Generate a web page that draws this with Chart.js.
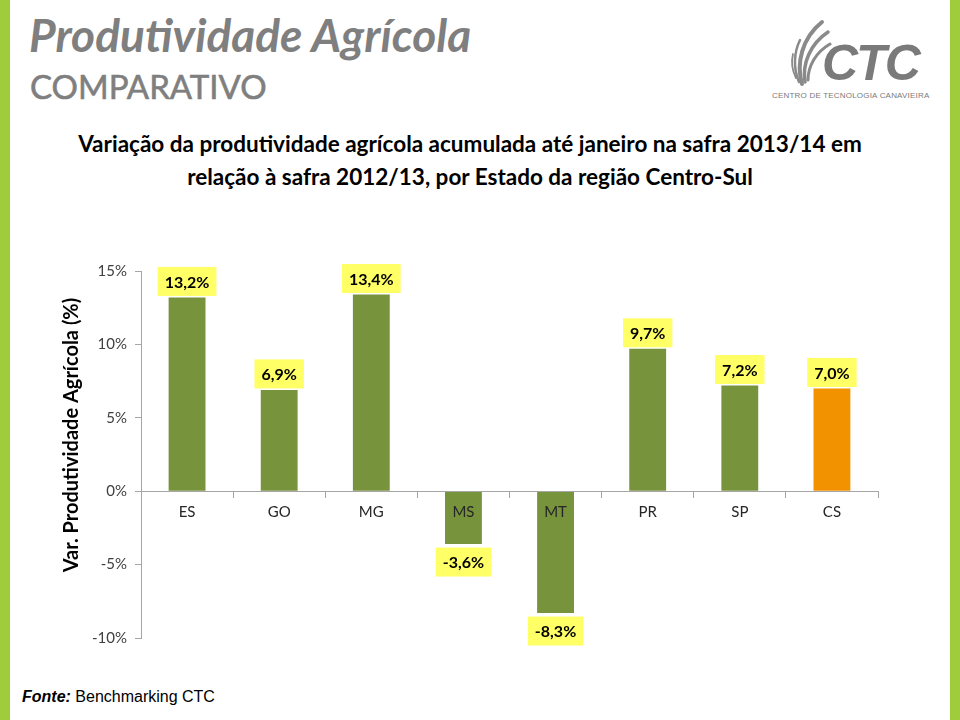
<!DOCTYPE html>
<html lang="pt">
<head>
<meta charset="utf-8">
<title>Produtividade Agrícola - Comparativo</title>
<script src="https://cdn.jsdelivr.net/npm/chart.js@4.4.1/dist/chart.umd.min.js"></script>
<style>
    html, body { margin: 0; padding: 0; background: #fff; }
    body { width: 960px; height: 720px; position: relative; overflow: hidden; font-family: Lato, "Open Sans", sans-serif; }
    .stripe { position: absolute; top: 0; bottom: 0; width: 10px; background: #9fcc3b; }
    .stripe.left { left: 0; }
    .stripe.right { left: 950px; }
    .title { position: absolute; left: 29px; top: 12px; font-size: 46px; font-weight: bold; font-style: italic; color: #7f7f7f; line-height: 1; }
    .subtitle { position: absolute; left: 30px; top: 70px; font-size: 33px; color: #7f7f7f; line-height: 1; -webkit-text-stroke: 0.6px #7f7f7f; }
    .heading { position: absolute; left: 20px; width: 900px; top: 127px; text-align: center; font-size: 22.5px; font-weight: bold; color: #000; line-height: 33px; }
    .logo-ctc { position: absolute; left: 822px; top: 34px; font-family: "Liberation Sans", Arial, sans-serif; font-size: 50px; font-weight: bold; font-style: italic; color: #7a7a7a; letter-spacing: -2px; }
    .logo-sub { position: absolute; left: 772px; top: 91px; width: 160px; font-family: "Liberation Sans", Arial, sans-serif; font-size: 8px; color: #7a7a7a; letter-spacing: 0.2px; white-space: nowrap; }
    .logo-mark { position: absolute; left: 788px; top: 18px; }
    .fonte { position: absolute; left: 22px; top: 688px; font-family: "Liberation Sans", Arial, sans-serif; font-size: 16px; color: #000; }
    .fonte b { font-style: italic; }
    #chartBox { position: absolute; left: 55px; top: 252px; width: 840px; height: 410px; }
</style>
</head>
<body>
<div class="stripe left"></div>
<div class="stripe right"></div>

<div class="title">Produtividade Agrícola</div>
<div class="subtitle">COMPARATIVO</div>

<svg class="logo-mark" width="44" height="70" viewBox="0 0 44 70">
    <g fill="none" stroke="#8a8a8a" stroke-linecap="round">
        <path d="M14 66 C 8 45, 14 20, 34 4" stroke-width="4"/>
        <path d="M17 64 C 14 46, 22 26, 40 14" stroke-width="3.5"/>
        <path d="M20 62 C 20 48, 28 34, 42 26" stroke-width="3"/>
        <path d="M11 64 C 5 50, 6 34, 12 22" stroke-width="2.5"/>
        <path d="M8 60 C 4 52, 3 44, 5 36" stroke-width="1.8"/>
    </g>
</svg>
<div class="logo-ctc">CTC</div>
<div class="logo-sub">CENTRO DE TECNOLOGIA CANAVIEIRA</div>

<div class="heading">Variação da produtividade agrícola acumulada até janeiro na safra 2013/14 em<br>relação à safra 2012/13, por Estado da região Centro-Sul</div>

<div id="chartBox"><canvas id="prodChart"></canvas></div>

<div class="fonte"><b>Fonte:</b> Benchmarking CTC</div>

<script>
/* ---------- Data ---------- */
const states = ["ES", "GO", "MG", "MS", "MT", "PR", "SP", "CS"];
const variation = [13.2, 6.9, 13.4, -3.6, -8.3, 9.7, 7.2, 7.0];
const barColors = ["#77933c", "#77933c", "#77933c", "#77933c", "#77933c", "#77933c", "#77933c", "#f39200"];
const yTicks = [-10, -5, 0, 5, 10, 15];
const yTitle = "Var. Produtividade Agrícola (%)";

function fmtPct(v) {
    return v.toFixed(1).replace(".", ",") + "%";
}

/* ---------- Plugins ---------- */
const valueLabels = {
    id: "valueLabels",
    afterDatasetsDraw(chart) {
        const ctx = chart.ctx;
        const meta = chart.getDatasetMeta(0);
        ctx.save();
        ctx.font = "bold 16px Lato, sans-serif";
        ctx.textAlign = "center";
        ctx.textBaseline = "middle";
        meta.data.forEach(function (bar, i) {
            const v = variation[i];
            const txt = fmtPct(v);
            const cy = v >= 0 ? bar.y - 16 : bar.y + 18;
            const w = ctx.measureText(txt).width + 14;
            const h = 29;
            ctx.fillStyle = "#ffff66";
            ctx.fillRect(bar.x - w / 2, cy - h / 2, w, h);
            ctx.fillStyle = "#000";
            ctx.fillText(txt, bar.x, cy + 1);
        });
        ctx.restore();
    }
};

const yAxisTitle = {
    id: "yAxisTitle",
    afterDraw(chart) {
        const ctx = chart.ctx;
        ctx.save();
        ctx.translate(72 - 55, 435 - 252);
        ctx.rotate(-Math.PI / 2);
        ctx.font = "bold 20px Lato, sans-serif";
        ctx.fillStyle = "#000";
        ctx.textAlign = "center";
        ctx.textBaseline = "middle";
        ctx.fillText(yTitle, 0, 0);
        ctx.restore();
    }
};

/* ---------- Chart ---------- */
new Chart(document.getElementById("prodChart").getContext("2d"), {
    type: "bar",
    data: {
        labels: states,
        datasets: [{ data: variation, backgroundColor: barColors, borderWidth: 0, barPercentage: 0.4, categoryPercentage: 1 }]
    },
    options: {
        responsive: true,
        maintainAspectRatio: false,
        animation: false,
        layout: { padding: { top: 19, right: 17, bottom: 24, left: 0 } },
        plugins: { legend: { display: false }, tooltip: { enabled: false } },
        scales: {
            x: {
                position: { y: 0 },
                offset: true,
                grid: { drawOnChartArea: false, drawTicks: true, tickLength: 6, offset: true, color: "#a6a6a6", z: 1 },
                border: { display: true, color: "#a6a6a6", z: 1 },
                ticks: { z: 1, color: "#262626", padding: 6, font: { family: "Lato", size: 15 } }
            },
            y: {
                min: -10,
                max: 15,
                afterBuildTicks: function (scale) { scale.ticks = yTicks.map(function (v) { return { value: v }; }); },
                afterFit: function (scale) { scale.width = 86; },
                grid: { drawOnChartArea: false, drawTicks: true, tickLength: 6, color: "#a6a6a6" },
                border: { display: true, color: "#a6a6a6" },
                ticks: { color: "#404040", padding: 8, font: { family: "Lato", size: 15 }, callback: function (v) { return v + "%"; } }
            }
        }
    },
    plugins: [valueLabels, yAxisTitle]
});
</script>
</body>
</html>
